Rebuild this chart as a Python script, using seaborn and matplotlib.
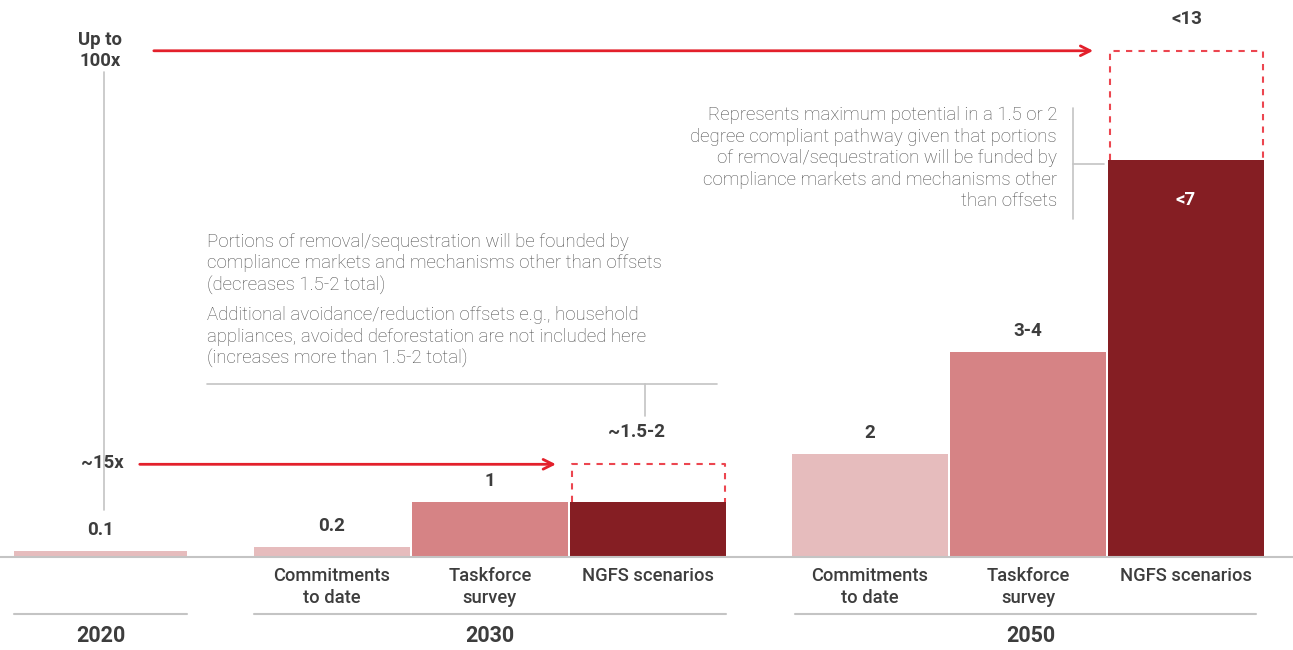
import seaborn as sns
import matplotlib.pyplot as plt
import pandas as pd

# printed values, plus the drawn heights
# (the original graphic is not drawn to scale, so heights are kept separately)
years = ['2020', '2030', '2050']
sources = ['Commitments\nto date', 'Taskforce\nsurvey', 'NGFS scenarios']
kinds = ['commit', 'survey', 'ngfs']

label_2020 = '0.1'
height_2020 = 0.12

labels_2030 = ['0.2', '1', '']
heights_2030 = [0.19, 1.07, 1.07]
labels_2050 = ['2', '3-4', '']
heights_2050 = [2.0, 3.98, 7.7]

# dashed upper ranges on top of the NGFS bars
range_2030 = 1.8
range_label_2030 = '~1.5-2'
range_2050 = 9.83
range_label_2050 = '<13'
inner_label_2050 = '<7'

multiples = ['~15x', 'Up to\n100x']

note_2030 = [
    'Portions of removal/sequestration will be founded by\n'
    'compliance markets and mechanisms other than offsets\n'
    '(decreases 1.5-2 total)',
    'Additional avoidance/reduction offsets e.g., household\n'
    'appliances, avoided deforestation are not included here\n'
    '(increases more than 1.5-2 total)',
]
note_2050 = ('Represents maximum potential in a 1.5 or 2\n'
             'degree compliant pathway given that portions\n'
             'of removal/sequestration will be funded by\n'
             'compliance markets and mechanisms other\n'
             'than offsets')

colors = {'commit': '#e6bcbd', 'survey': '#d68385', 'ngfs': '#851e23'}
red = '#e3202b'
dash_red = '#ec4650'
grey = '#c4c4c4'
dark = '#3d3d3d'
note_grey = '#4d4d4d'

# group layout (slot units)
starts = {'2030': 1.465, '2050': 4.87}
bar_w = 0.987

rows = []
for year, heights, labels in [('2030', heights_2030, labels_2030),
                              ('2050', heights_2050, labels_2050)]:
    for i in range(3):
        rows.append({'year': year, 'x': starts[year] + i, 'height': heights[i],
                     'kind': kinds[i], 'label': labels[i], 'source': sources[i]})
df = pd.DataFrame(rows)

sns.set_style('white')
plt.rcParams['font.family'] = ['Roboto', 'DejaVu Sans']

fig = plt.figure(figsize=(12.93, 6.5), dpi=100)
ax = fig.add_axes([0, 0, 1, 1])

sns.barplot(data=df, x='x', y='height', hue='kind', palette=colors,
            native_scale=True, width=bar_w, dodge=False, saturation=1,
            errorbar=None, legend=False, linewidth=0, ax=ax)
sns.barplot(x=[0.0], y=[height_2020], native_scale=True, width=1.095,
            color=colors['commit'], saturation=1, errorbar=None,
            linewidth=0, ax=ax)

ax.set_xlim(-0.636, 7.547)
ax.set_ylim(-1.806, 10.816)
ax.axis('off')

# baseline
ax.axhline(0, color=grey, lw=1.5, zorder=3)

# value labels above bars
def top_label(x, y, text, dy=21, dx=0):
    ax.annotate(text, (x, y), xytext=(dx, dy), textcoords='offset pixels',
                ha='center', va='center', fontsize=13.5, fontweight='bold',
                color=dark)

top_label(0, height_2020, label_2020)
for _, r in df.iterrows():
    if r['label']:
        top_label(r['x'], r['height'], r['label'])

# dashed range boxes
for year, top, lab, dx in [('2030', range_2030, range_label_2030, -12),
                           ('2050', range_2050, range_label_2050, 1)]:
    r = df[(df['year'] == year) & (df['kind'] == 'ngfs')].iloc[0]
    x0, x1 = r['x'] - bar_w / 2 + 0.01, r['x'] + bar_w / 2 - 0.005
    ax.plot([x0, x0, x1, x1], [r['height'], top, top, r['height']],
            color=dash_red, lw=1.5, ls=(0, (3, 3)), zorder=2)
    top_label(r['x'], top, lab, dy=32, dx=dx)

r = df[(df['year'] == '2050') & (df['kind'] == 'ngfs')].iloc[0]
ax.annotate(inner_label_2050, (r['x'], r['height']), xytext=(0, -40),
            textcoords='offset pixels', ha='center', va='center',
            fontsize=13.5, fontweight='bold', color='white')

# category labels and year groups
for _, r in df.iterrows():
    ax.text(r['x'], -0.2, r['source'], ha='center', va='top', fontsize=13.2,
            fontweight='medium', color=dark, linespacing=1.3)

spans = {'2020': (-0.55, 0.55),
         '2030': (starts['2030'] - bar_w / 2, starts['2030'] + 2 + bar_w / 2),
         '2050': (starts['2050'] - bar_w / 2 + 0.02, starts['2050'] + 2 + bar_w / 2 - 0.05)}
year_x = {'2020': 0.0, '2030': starts['2030'] + 1, '2050': starts['2050'] + 1.02}
for year in years:
    a, b = spans[year]
    ax.plot([a, b], [-1.107, -1.107], color=grey, lw=1.5)
    ax.text(year_x[year], -1.534, year, ha='center', va='center', fontsize=15.5,
            fontweight='bold', color=dark)

# multiple arrows from 2020
ax.plot([0.022, 0.022], [0.91, 9.42], color=grey, lw=1.2, zorder=0)
ax.text(0.01, 1.825, multiples[0], ha='center', va='center', fontsize=13.3,
        fontweight='bold', color=dark)
ax.text(0.0, 9.84, multiples[1], ha='center', va='center', fontsize=13.3,
        fontweight='bold', color=dark, linespacing=1.25)
ax.annotate('', xy=(2.9, range_2030), xytext=(0.231, range_2030),
            arrowprops=dict(arrowstyle='->,head_length=0.7,head_width=0.35',
                            color=red, lw=2))
ax.annotate('', xy=(6.3, range_2050), xytext=(0.32, range_2050),
            arrowprops=dict(arrowstyle='->,head_length=0.7,head_width=0.35',
                            color=red, lw=2))

# notes
ax.text(0.674, 5.69, note_2030[0], ha='left', va='center', fontsize=13.4,
        fontweight='light', color=note_grey, linespacing=1.25)
ax.text(0.674, 4.27, note_2030[1], ha='left', va='center', fontsize=13.4,
        fontweight='light', color=note_grey, linespacing=1.25)
ax.plot([0.674, 3.9], [3.36, 3.36], color=grey, lw=1.2)
ax.plot([3.446, 3.446], [3.36, 2.74], color=grey, lw=1.2)

ax.text(6.054, 7.74, note_2050, ha='right', va='center', fontsize=13.4,
        fontweight='light', color=note_grey, linespacing=1.25,
        multialignment='right')
ax.plot([6.155, 6.155], [6.56, 8.72], color=grey, lw=1.2)
ax.plot([6.155, 6.35], [7.63, 7.63], color=grey, lw=1.2)

fig.savefig('out.png', dpi=100)
